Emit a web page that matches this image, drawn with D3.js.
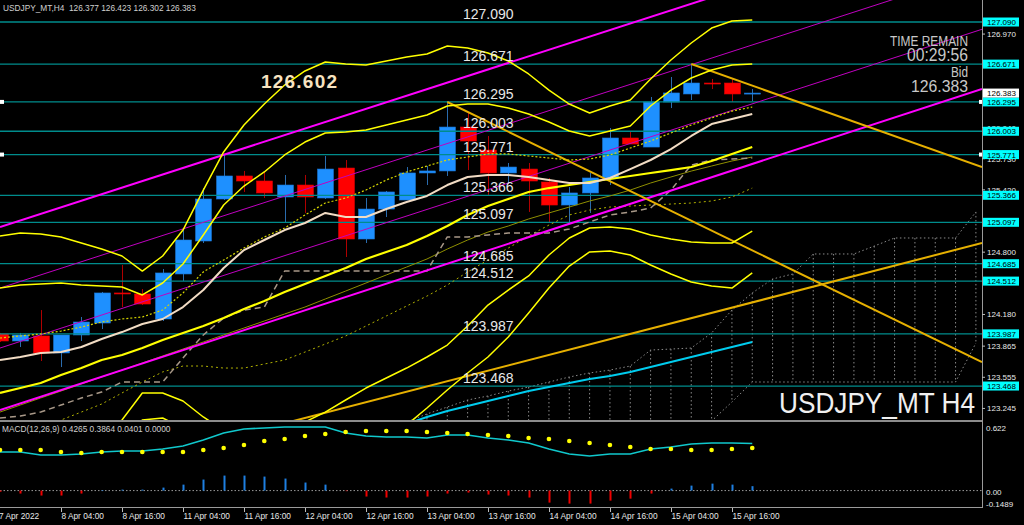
<!DOCTYPE html>
<html><head><meta charset="utf-8">
<script src="https://cdn.jsdelivr.net/npm/d3@7"></script>
<style>html,body{margin:0;padding:0;background:#000;overflow:hidden}svg{display:block}</style>
</head><body>
<svg id="c" width="1024" height="525"></svg>
<script>
// ---------- DATA ----------
const timeLabels = ["7 Apr 2022","8 Apr 04:00","8 Apr 16:00","11 Apr 04:00","11 Apr 16:00","12 Apr 04:00","12 Apr 16:00","13 Apr 04:00","13 Apr 16:00","14 Apr 04:00","14 Apr 16:00","15 Apr 04:00","15 Apr 16:00"];
const timeLabelBars = [0,3,6,9,12,15,18,21,24,27,30,33,36];

const opens  = [123.986,123.916,123.966,123.797,123.976,124.095,124.394,124.384,124.135,124.583,124.911,125.329,125.558,125.508,125.349,125.468,125.339,125.637,124.931,125.229,125.319,125.588,125.608,126.045,125.816,125.588,125.627,125.498,125.269,125.389,125.538,125.936,125.846,126.294,126.374,126.483,126.483,126.377];
const highs  = [123.996,123.996,124.224,123.976,124.155,124.404,124.672,124.433,124.632,125.020,125.438,125.767,125.608,125.598,125.568,125.568,125.757,125.717,125.339,125.409,125.647,125.657,126.304,126.195,125.956,125.687,125.687,125.538,125.448,125.588,126.035,125.996,126.344,126.543,126.672,126.523,126.523,126.423];
const lows   = [123.906,123.856,123.717,123.657,123.916,124.035,124.254,124.274,124.115,124.513,124.891,125.319,125.399,125.339,125.100,125.190,125.329,124.752,124.891,125.150,125.319,125.468,125.558,125.617,125.369,125.478,125.200,125.100,125.080,125.190,125.468,125.876,125.846,126.234,126.314,126.423,126.294,126.302];
const closes = [123.916,123.976,123.797,123.976,124.105,124.394,124.384,124.284,124.593,124.921,125.329,125.558,125.508,125.389,125.468,125.349,125.627,124.931,125.229,125.399,125.588,125.608,126.045,125.906,125.588,125.647,125.508,125.269,125.389,125.538,125.936,125.876,126.294,126.384,126.483,126.473,126.374,126.383];

const bbMid = [123.399,123.448,123.498,123.578,123.647,123.727,123.777,123.846,123.926,123.996,124.065,124.145,124.234,124.314,124.404,124.483,124.563,124.642,124.732,124.802,124.871,124.961,125.060,125.170,125.259,125.329,125.399,125.438,125.468,125.498,125.528,125.558,125.588,125.617,125.647,125.707,125.777,125.846];
const bbUp2 = [124.443,124.473,124.483,124.493,124.473,124.463,124.453,124.374,124.493,124.682,124.971,125.269,125.458,125.598,125.767,125.896,125.986,125.996,126.015,126.065,126.115,126.165,126.254,126.274,126.274,126.234,126.175,126.095,126.005,125.956,126.005,126.055,126.254,126.413,126.533,126.612,126.662,126.672];
const bbUp3 = [124.961,124.991,124.981,124.951,124.891,124.831,124.762,124.612,124.762,125.020,125.418,125.797,126.065,126.274,126.463,126.603,126.692,126.672,126.662,126.702,126.742,126.772,126.851,126.831,126.782,126.702,126.573,126.413,126.274,126.185,126.254,126.314,126.523,126.712,126.881,127.030,127.100,127.110];
const bbLo2 = [122.354,122.423,122.513,122.662,122.821,122.991,123.130,123.399,123.399,123.319,123.160,123.030,122.981,123.010,123.050,123.110,123.209,123.329,123.448,123.548,123.647,123.757,123.876,124.065,124.274,124.423,124.563,124.772,124.941,125.040,125.050,125.030,124.971,124.931,124.901,124.891,124.891,125.010];
const bbLo3 = [121.737,121.836,121.985,122.184,122.384,122.632,122.931,123.130,123.150,123.050,122.732,122.533,122.433,122.433,122.433,122.483,122.582,122.732,122.831,122.931,123.080,123.249,123.428,123.598,123.757,123.956,124.195,124.443,124.662,124.802,124.811,124.772,124.672,124.583,124.503,124.463,124.443,124.593];
const maFast = [123.727,123.757,123.797,123.806,123.856,123.936,124.005,124.085,124.135,124.254,124.423,124.642,124.821,124.921,125.020,125.090,125.190,125.150,125.150,125.229,125.299,125.359,125.468,125.548,125.568,125.568,125.548,125.518,125.488,125.488,125.538,125.627,125.717,125.826,125.956,126.075,126.125,126.175];
const maDotted = [123.946,123.966,123.986,124.015,124.055,124.105,124.135,124.155,124.224,124.394,124.603,124.722,124.841,124.951,125.040,125.170,125.289,125.339,125.418,125.518,125.598,125.657,125.717,125.747,125.777,125.777,125.757,125.737,125.717,125.727,125.767,125.836,125.906,125.986,126.065,126.135,126.204,126.244];
const maDotted2 = [122.831,122.931,123.010,123.130,123.209,123.289,123.399,123.508,123.608,123.667,123.667,123.647,123.647,123.687,123.727,123.806,123.886,123.966,124.065,124.165,124.264,124.363,124.473,124.603,124.722,124.841,124.961,125.070,125.170,125.219,125.249,125.259,125.269,125.279,125.289,125.309,125.349,125.438];
const oliveLine = [123.209,123.279,123.349,123.418,123.488,123.558,123.627,123.697,123.767,123.836,123.906,123.976,124.045,124.115,124.185,124.254,124.334,124.413,124.493,124.573,124.652,124.732,124.831,124.921,125.000,125.060,125.130,125.190,125.249,125.309,125.359,125.418,125.488,125.548,125.607,125.657,125.707,125.747];
const kijun = [123.150,123.170,123.209,123.279,123.349,123.408,123.508,123.508,123.508,123.747,123.976,124.145,124.224,124.254,124.612,124.612,124.612,124.612,124.612,124.612,124.612,124.612,124.951,124.951,124.971,124.991,124.991,124.991,125.030,125.100,125.170,125.200,125.239,125.418,125.667,125.717,125.727,125.737];
const cyanStart = 20;
const cyanLine = [123.090,123.160,123.219,123.269,123.319,123.369,123.418,123.458,123.498,123.538,123.568,123.608,123.657,123.707,123.757,123.806,123.856,123.906];
const cloudStart = 20;
const spanUpper = [123.110,123.190,123.259,123.329,123.369,123.418,123.458,123.508,123.558,123.598,123.627,123.667,123.826,123.836,123.846,123.996,124.224,124.394,124.533,124.583,124.782,124.782,124.782,124.861,124.941,124.941,124.941,124.941,125.200];
const spanLower = [122.533,122.552,122.572,122.592,122.612,122.632,122.652,122.672,122.692,122.712,122.732,122.752,122.781,122.881,122.931,123.120,123.309,123.508,123.508,123.508,123.508,123.508,123.508,123.508,123.508,123.508,123.508,123.508,123.896];

const levels = [127.090,126.671,126.295,126.003,125.771,125.366,125.097,124.685,124.512,123.987,123.468];
// axis tick labels that are visible (the others are covered by the level boxes)
const priceTicks = [126.970,126.040,125.730,125.420,124.800,124.180,123.865,123.555,123.245];
const bidPrice = 126.383;

// trendlines: [bar, price] pairs
const channelThick = [[[0,125.050],[30,127.010]], [[0,123.229],[30,125.214]]];
const channelThin  = [[[0,124.443],[30,126.404]], [[0,123.846],[30,125.816]]];
const goldLines = [[[22,126.294],[48.3,123.707]], [[34,126.672],[48.3,125.647]], [[0,122.366],[48.3,124.891]]];

const macdMain = [0.350,0.350,0.323,0.323,0.332,0.350,0.359,0.359,0.377,0.404,0.459,0.522,0.559,0.568,0.577,0.577,0.577,0.522,0.495,0.486,0.486,0.477,0.504,0.504,0.477,0.459,0.432,0.377,0.332,0.314,0.332,0.332,0.377,0.395,0.423,0.432,0.432,0.4265];
const macdSignal = [0.368,0.368,0.368,0.350,0.341,0.350,0.350,0.350,0.350,0.350,0.368,0.386,0.413,0.450,0.468,0.495,0.513,0.531,0.540,0.540,0.540,0.531,0.522,0.513,0.504,0.495,0.477,0.468,0.450,0.432,0.413,0.395,0.377,0.377,0.368,0.368,0.377,0.3864];
const macdHist = [-0.010,-0.027,-0.045,-0.045,-0.027,0.005,0.009,0.009,0.027,0.054,0.100,0.136,0.136,0.127,0.109,0.073,0.054,-0.005,-0.054,-0.063,-0.063,-0.054,-0.027,-0.018,-0.036,-0.045,-0.063,-0.109,-0.118,-0.118,-0.091,-0.073,-0.027,0.018,0.045,0.063,0.054,0.0401];
const macdTicks = [0.622,0.00,-0.1489];
const macdTickText = ["0.622","0.00","-0.1489"];

// ---------- SCALES ----------
const PW = 982;
const x = d3.scaleLinear().domain([0,48.3]).range([0,PW]);
const y = d3.scaleLinear().domain([123.130,127.309]).range([420,0]);
const ym = d3.scaleLinear().domain([-0.1489,0.622]).range([507,422]);
const FONT = "'Liberation Sans', Arial, sans-serif";

const svg = d3.select('#c');
svg.append('rect').attr('width',1024).attr('height',525).attr('fill','#000');
const defs = svg.append('defs');
defs.append('clipPath').attr('id','cm').append('rect').attr('x',0).attr('y',0).attr('width',PW).attr('height',420);
defs.append('clipPath').attr('id','cd').append('rect').attr('x',0).attr('y',422).attr('width',PW).attr('height',85);

const g = svg.append('g').attr('clip-path','url(#cm)');
const line = d3.line().x(d=>x(d[0])).y(d=>y(d[1]));
const series = (arr,start=0)=>arr.map((v,i)=>[i+start,v]);

// Ichimoku cloud (dotted)
const cloudStyle = s=>s.attr('fill','none').attr('stroke','#8a8a8a').attr('stroke-width',1).attr('stroke-dasharray','1.5,2.5');
spanUpper.forEach((v,i)=>{
  g.append('line').attr('x1',x(i+cloudStart)).attr('x2',x(i+cloudStart))
   .attr('y1',y(v)).attr('y2',y(spanLower[i])).call(cloudStyle);
});
g.append('path').attr('d',line(series(spanUpper,cloudStart))).call(cloudStyle);
g.append('path').attr('d',line(series(spanLower,cloudStart))).call(cloudStyle);

// candles
const bw = (x(1)-x(0))*0.78;
opens.forEach((o,i)=>{
  const c = closes[i], up = c>=o;
  const cx = Math.round(x(i))+0.5;
  g.append('line').attr('x1',cx).attr('x2',cx).attr('y1',y(highs[i])).attr('y2',y(lows[i]))
   .attr('stroke', up?'#2a6cae':'#b00000').attr('stroke-width',1);
  const top = y(Math.max(o,c)), h = Math.max(1, y(Math.min(o,c))-top);
  g.append('rect').attr('x',cx-bw/2).attr('y',top).attr('width',bw).attr('height',h)
   .attr('fill', up?'#1e90ff':'#ff0000').attr('stroke', up?'#1a78d8':'#e00000').attr('stroke-width',0.6);
});

// horizontal levels
levels.forEach(l=>{
  g.append('line').attr('x1',0).attr('x2',PW).attr('y1',y(l)).attr('y2',y(l))
   .attr('stroke','#008c8c').attr('stroke-width',1.3);
});

// indicator lines
const drawSeries=(arr,color,w,dash,start=0)=>{
  const p=g.append('path').attr('d',line(series(arr,start))).attr('fill','none')
   .attr('stroke',color).attr('stroke-width',w).attr('stroke-linejoin','round');
  if(dash) p.attr('stroke-dasharray',dash);
};
drawSeries(oliveLine,'#8f8f00',1);
drawSeries(maDotted2,'#b0b000',1,'2,3');
drawSeries(kijun,'#a89888',1.5,'6,4');
drawSeries(cyanLine,'#00ccee',2,null,cyanStart);

// trendlines (extended to the right edge)
const ext = (seg,extendLeft)=>{
  const [a,b]=seg; const s=(b[1]-a[1])/(b[0]-a[0]);
  const x0 = extendLeft?0:a[0], x1 = 48.3;
  return [[x0,a[1]+s*(x0-a[0])],[x1,a[1]+s*(x1-a[0])]];
};
channelThin.forEach(s=>g.append('path').attr('d',line(ext(s,true))).attr('stroke','#c000c0').attr('stroke-width',1).attr('fill','none'));
channelThick.forEach(s=>g.append('path').attr('d',line(ext(s,true))).attr('stroke','#ff00ff').attr('stroke-width',2).attr('fill','none'));
goldLines.forEach((s,i)=>g.append('path').attr('d',line(ext(s,i===2))).attr('stroke','#e6b000').attr('stroke-width',2).attr('fill','none'));

drawSeries(maDotted,'#d8d800',1.2,'2,2');
drawSeries(bbLo3,'#ffff00',1.5);
drawSeries(bbLo2,'#ffff00',1.5);
drawSeries(bbUp3,'#ffff00',1.5);
drawSeries(bbUp2,'#ffff00',1.5);
drawSeries(bbMid,'#ffff00',2.2);
drawSeries(maFast,'#f2dcc4',2);

// level labels
levels.forEach(l=>{
  g.append('text').attr('x',463).attr('y',y(l)-3).text(l.toFixed(3))
   .attr('fill','#e8e8e8').attr('font-family',FONT).attr('font-size',14);
});
// selection handles
[126.295,125.771].forEach(l=>{
  svg.append('rect').attr('x',0).attr('y',y(l)-2).attr('width',4).attr('height',4).attr('fill','#fff');
  svg.append('rect').attr('x',PW-3).attr('y',y(l)-2).attr('width',4).attr('height',4).attr('fill','#fff');
});

// frames
svg.append('rect').attr('x',0).attr('y',420).attr('width',PW).attr('height',2).attr('fill','#8c8c8c');
svg.append('line').attr('x1',PW+0.5).attr('x2',PW+0.5).attr('y1',0).attr('y2',508).attr('stroke','#9a9a9a');
svg.append('line').attr('x1',0).attr('x2',PW+1).attr('y1',507.5).attr('y2',507.5).attr('stroke','#9a9a9a');

// texts in main
svg.append('text').attr('x',3).attr('y',11).text('USDJPY_MT,H4  126.377 126.423 126.302 126.383')
  .attr('fill','#d0d0d0').attr('font-family',FONT).attr('font-size',8.3).attr('xml:space','preserve');
svg.append('text').attr('x',261).attr('y',88).text('126.602').attr('fill','#f7e3c0')
  .attr('font-family',FONT).attr('font-size',19).attr('font-weight','bold').attr('textLength',76).attr('lengthAdjust','spacing');
const rt=(t,yy,fs,len)=>svg.append('text').attr('x',968).attr('y',yy).text(t).attr('text-anchor','end')
  .attr('fill','#c8c8c8').attr('font-family',FONT).attr('font-size',fs).attr('textLength',len).attr('lengthAdjust','spacingAndGlyphs');
rt('TIME REMAIN',46,14.5,78);
rt('00:29:56',61,17.5,61);
rt('Bid',77,14,17);
rt('126.383',92,17,57);
svg.append('text').attr('x',975).attr('y',413).text('USDJPY_MT H4').attr('text-anchor','end')
  .attr('fill','#f0f0f0').attr('font-family',FONT).attr('font-size',30).attr('textLength',196).attr('lengthAdjust','spacingAndGlyphs');

// ---------- MACD ----------
const gm = svg.append('g').attr('clip-path','url(#cd)');
gm.append('line').attr('x1',0).attr('x2',PW).attr('y1',ym(0)).attr('y2',ym(0)).attr('stroke','#9a9a9a').attr('stroke-dasharray','1.5,2');
macdHist.forEach((v,i)=>{
  gm.append('line').attr('x1',Math.round(x(i))+0.5).attr('x2',Math.round(x(i))+0.5).attr('y1',ym(0)).attr('y2',ym(v))
    .attr('stroke', v>=0?'#1e7fe0':'#ee0000').attr('stroke-width',2);
});
gm.append('path').attr('d',d3.line().x((d,i)=>x(i)).y(d=>ym(d))(macdMain)).attr('fill','none').attr('stroke','#10c8cc').attr('stroke-width',1.6);
macdSignal.forEach((v,i)=>gm.append('circle').attr('cx',x(i)).attr('cy',ym(v)).attr('r',2.3).attr('fill','#ffff00'));
svg.append('text').attr('x',2).attr('y',432).text('MACD(12,26,9) 0.4265 0.3864 0.0401 0.0000')
  .attr('fill','#d0d0d0').attr('font-family',FONT).attr('font-size',8.3);

// right price axis
priceTicks.forEach(p=>{
  svg.append('line').attr('x1',PW).attr('x2',PW+3).attr('y1',y(p)).attr('y2',y(p)).attr('stroke','#bbb');
  svg.append('text').attr('x',PW+5).attr('y',y(p)+3).text(p.toFixed(3)).attr('fill','#e8e8e8')
    .attr('font-family',FONT).attr('font-size',8);
});
levels.forEach(l=>{
  svg.append('rect').attr('x',PW+1).attr('y',y(l)-4.5).attr('width',36).attr('height',9).attr('fill','#00ffff');
  svg.append('text').attr('x',PW+5).attr('y',y(l)+3).text(l.toFixed(3)).attr('fill','#000')
    .attr('font-family',FONT).attr('font-size',8);
});
svg.append('rect').attr('x',PW+1).attr('y',y(bidPrice)-4.5).attr('width',36).attr('height',9).attr('fill','#fff');
svg.append('text').attr('x',PW+5).attr('y',y(bidPrice)+3).text(bidPrice.toFixed(3)).attr('fill','#000')
  .attr('font-family',FONT).attr('font-size',8);
const macdLabelY = [431, 495, 507];
macdTicks.forEach((v,i)=>{
  svg.append('text').attr('x',PW+4).attr('y',macdLabelY[i]).text(macdTickText[i]).attr('fill','#e8e8e8')
    .attr('font-family',FONT).attr('font-size',8);
});

// time axis
timeLabelBars.forEach((b,i)=>{
  const xx = Math.round(x(b))+0.5;
  if(i>0) svg.append('line').attr('x1',xx).attr('x2',xx).attr('y1',508).attr('y2',512).attr('stroke','#bbb');
  svg.append('text').attr('x',i===0? -1 : xx).attr('y',519).text(timeLabels[i]).attr('fill','#e8e8e8')
    .attr('font-family',FONT).attr('font-size',8.3);
});
</script>
</body></html>
